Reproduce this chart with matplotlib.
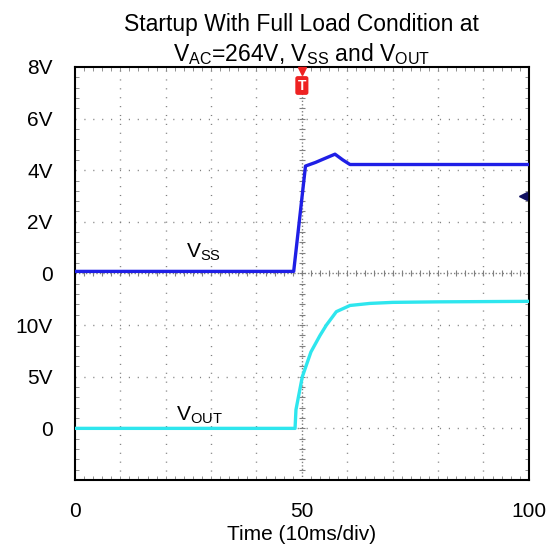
import numpy as np
import matplotlib
matplotlib.use("Agg")
import matplotlib.pyplot as plt

plt.rcParams["font.family"] = ["Liberation Sans", "DejaVu Sans"]
plt.rcParams["mathtext.fontset"] = "custom"
plt.rcParams["mathtext.rm"] = "Liberation Sans"
plt.rcParams["mathtext.it"] = "Liberation Sans:italic"

# thoi gian (ms) va dien ap (V) doc tu anh
vss_t = [0, 48.2, 50.8, 53.0, 55.0, 57.3, 59.0, 60.6, 65.0, 80.0, 100.0]
vss_v = [0.08, 0.08, 4.16, 4.30, 4.45, 4.62, 4.40, 4.22, 4.22, 4.22, 4.22]

vout_t = [0, 48.5, 48.7, 50.1, 52.0, 54.0, 55.4, 57.6, 60.6, 65.0, 70.0, 80.0, 100.0]
vout_v = [0, 0, 1.8, 5.0, 7.4, 9.0, 10.0, 11.3, 11.9, 12.1, 12.2, 12.25, 12.3]

# thang do kenh: V/div va vi tri muc 0 (div tinh tu duoi)
vss_scale, vss_zero = 2.0, 4
vout_scale, vout_zero = 5.0, 1

x_ticks = [0, 50, 100]
y_tick_pos = [8, 7, 6, 5, 4, 3, 2, 1]
y_tick_lab = ["8V", "6V", "4V", "2V", "0", "10V", "5V", "0"]

fig = plt.figure(figsize=(5.59, 5.53), dpi=100)
ax = fig.add_axes([0.134, 0.132, 0.812, 0.747])
ax.set_xlim(0, 100)
ax.set_ylim(0, 8)

# luoi cham cua may hien song
for gx in range(10, 100, 10):
    if gx != 50:
        ax.axvline(gx, color="#808080", lw=1, ls=(0, (0.8, 5.6)), zorder=1)
for gy in range(1, 8):
    if gy != 4:
        ax.axhline(gy, color="#808080", lw=1, ls=(0, (0.8, 5.6)), zorder=1)
ax.axvline(50, color="#808080", lw=1, ls=(0, (1, 1.5)), zorder=1)
ax.axhline(4, color="#808080", lw=1, ls=(0, (1, 1.5)), zorder=1)
mx = np.arange(0, 100.01, 2)
my = np.arange(0, 8.01, 0.2)
ax.plot(mx, np.full(len(mx), 4), ls="none", marker="|", ms=5, color="#808080", mew=0.8, zorder=1)
ax.plot(np.full(len(my), 50), my, ls="none", marker="_", ms=5, color="#808080", mew=0.8, zorder=1)

ax.plot(vout_t, [vout_zero + v / vout_scale for v in vout_v], color="#2ee6ee", lw=2.4, zorder=3)
ax.plot(vss_t, [vss_zero + v / vss_scale for v in vss_v], color="#1f1fe6", lw=2.4, zorder=4)

ax.text(24.5, 4.3, "V$_\\mathrm{SS}$", fontsize=15)
ax.text(22.3, 1.15, "V$_\\mathrm{OUT}$", fontsize=15)

# dau trigger va dau muc kenh
ax.plot([50], [7.93], marker="v", color="#ee2222", ms=5.5, clip_on=False, zorder=6)
ax.text(50, 7.64, "T", color="white", fontsize=10, fontweight="bold", ha="center", va="center",
        bbox=dict(boxstyle="round,pad=0.12", fc="#ee2222", ec="#ee2222"), zorder=6)
ax.plot([98.7], [vss_zero + 3.0 / vss_scale], marker="<", color="#101060", ms=6, zorder=6)

ax.set_xticks(x_ticks)
ax.set_yticks(y_tick_pos)
ax.set_yticklabels(y_tick_lab)
ax.set_xticks(np.arange(0, 100.01, 2), minor=True)
ax.set_yticks(np.arange(0, 8.01, 0.2), minor=True)
ax.tick_params(axis="both", which="major", length=0, labelsize=15)
ax.tick_params(axis="x", which="major", pad=16)
ax.tick_params(axis="y", which="major", pad=16)
ax.tick_params(which="minor", direction="in", length=3, color="#808080", top=True, right=True)
for s in ax.spines.values():
    s.set_linewidth(1.5)

ax.set_xlabel("Time (10ms/div)", fontsize=15, labelpad=3)
ax.set_title("Startup With Full Load Condition at\nV$_\\mathrm{AC}$=264V, V$_\\mathrm{SS}$ and V$_\\mathrm{OUT}$",
             fontsize=16.5, pad=4, linespacing=1.25)

fig.savefig("out.png", dpi=100)
